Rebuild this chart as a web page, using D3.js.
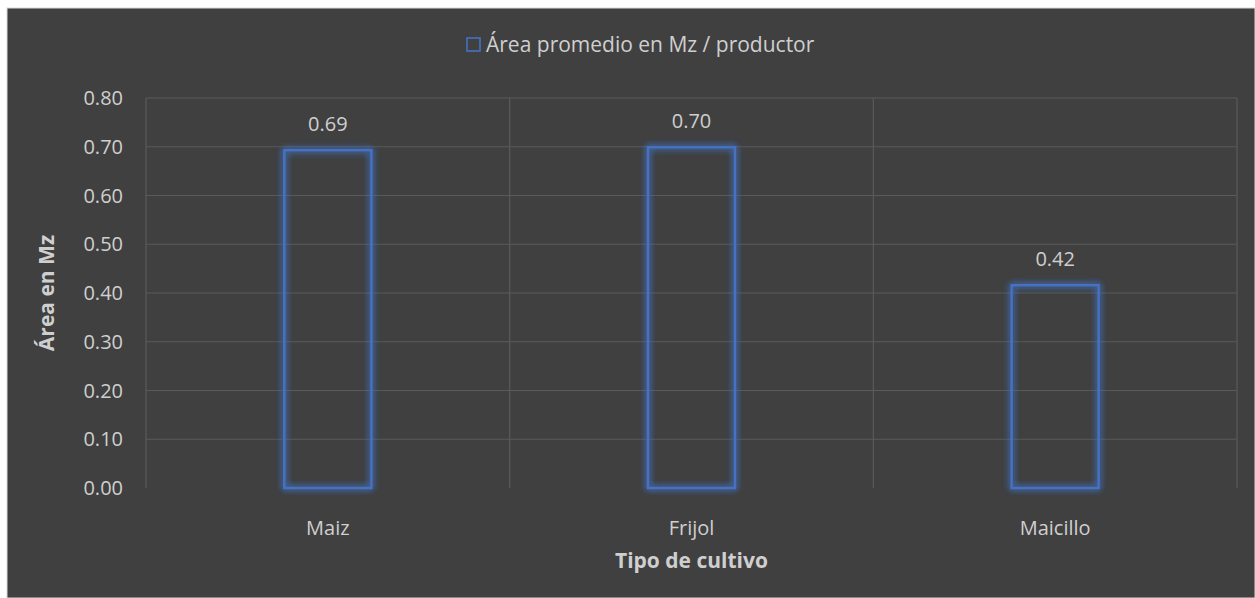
<!DOCTYPE html>
<html><head><meta charset="utf-8">
<script src="https://cdn.jsdelivr.net/npm/d3@7"></script>
<style>
html,body{margin:0;padding:0;background:#fff;}
svg{display:block;}
text{font-family:"Open Sans","Noto Sans",sans-serif;}
</style></head>
<body>
<svg id="c" width="1255" height="598"></svg>
<script>
const categories = ["Maiz", "Frijol", "Maicillo"];
const values = [0.693, 0.699, 0.416];
const yTicks = [0, 0.1, 0.2, 0.3, 0.4, 0.5, 0.6, 0.7, 0.8];
const seriesName = "Área promedio en Mz / productor";
const yTitle = "Área en Mz";
const xTitle = "Tipo de cultivo";

const txt = "#cfcfcf";
const svg = d3.select("#c");
svg.append("rect").attr("x",7).attr("y",8).attr("width",1248).attr("height",590)
  .attr("fill","#404040").attr("stroke","#d9d9d9").attr("stroke-width",1);

const defs = svg.append("defs");
const f = defs.append("filter").attr("id","glow").attr("x","-30%").attr("y","-30%").attr("width","160%").attr("height","160%");
f.append("feGaussianBlur").attr("in","SourceGraphic").attr("stdDeviation",3.5).attr("result","b");
const m = f.append("feMerge");
m.append("feMergeNode").attr("in","b");
m.append("feMergeNode").attr("in","b");
m.append("feMergeNode").attr("in","SourceGraphic");

const L=146, R=1237, T=98, B=488;
const x = d3.scaleBand().domain(categories).range([L,R]).paddingInner(0).paddingOuter(0);
const y = d3.scaleLinear().domain([0,0.8]).range([B,T]);

// horizontal gridlines
svg.append("g").selectAll("line").data(yTicks.filter(d=>d>0)).join("line")
  .attr("x1",L).attr("x2",R).attr("y1",d=>y(d)).attr("y2",d=>y(d))
  .attr("stroke","#5a5a5a").attr("stroke-width",1.2);
// vertical category gridlines
const bounds = categories.map(c=>x(c)).concat([x(categories[categories.length-1])+x.bandwidth()]);
svg.append("g").selectAll("line").data(bounds).join("line")
  .attr("x1",d=>d).attr("x2",d=>d).attr("y1",T).attr("y2",B)
  .attr("stroke","#5a5a5a").attr("stroke-width",1.2);

// y tick labels
svg.append("g").selectAll("text").data(yTicks).join("text")
  .attr("x",123).attr("y",d=>y(d)).attr("dy","0.35em").attr("text-anchor","end")
  .attr("fill",txt).attr("font-size",20).text(d3.format(".2f"));

// bars
const bw = 87;
svg.append("g").selectAll("rect").data(values).join("rect")
  .attr("x",(d,i)=>x(categories[i])+x.bandwidth()/2-bw/2)
  .attr("y",d=>y(d)).attr("width",bw).attr("height",d=>B-y(d))
  .attr("fill","none").attr("stroke","#4472c4").attr("stroke-width",2.4)
  .attr("filter","url(#glow)");

// value labels
svg.append("g").selectAll("text").data(values).join("text")
  .attr("x",(d,i)=>x(categories[i])+x.bandwidth()/2).attr("y",d=>y(d)-19)
  .attr("text-anchor","middle").attr("fill",txt).attr("font-size",20)
  .text(d3.format(".2f"));

// category labels
svg.append("g").selectAll("text").data(categories).join("text")
  .attr("x",d=>x(d)+x.bandwidth()/2).attr("y",528).attr("dy","0.35em")
  .attr("text-anchor","middle").attr("fill",txt).attr("font-size",20).text(d=>d);

// axis titles
svg.append("text").attr("x",(L+R)/2).attr("y",561).attr("dy","0.35em").attr("text-anchor","middle")
  .attr("fill",txt).attr("font-size",21).attr("font-weight","bold").text(xTitle);
svg.append("text").attr("transform",`translate(47,${(T+B)/2}) rotate(-90)`).attr("dy","0.35em")
  .attr("text-anchor","middle").attr("fill",txt).attr("font-size",21).attr("font-weight","bold").text(yTitle);

// legend
svg.append("rect").attr("x",467).attr("y",38).attr("width",13).attr("height",13)
  .attr("fill","none").attr("stroke","#4472c4").attr("stroke-width",1.6);
svg.append("text").attr("x",486).attr("y",45).attr("dy","0.35em").attr("fill",txt)
  .attr("font-size",21).text(seriesName);
</script>
</body></html>
